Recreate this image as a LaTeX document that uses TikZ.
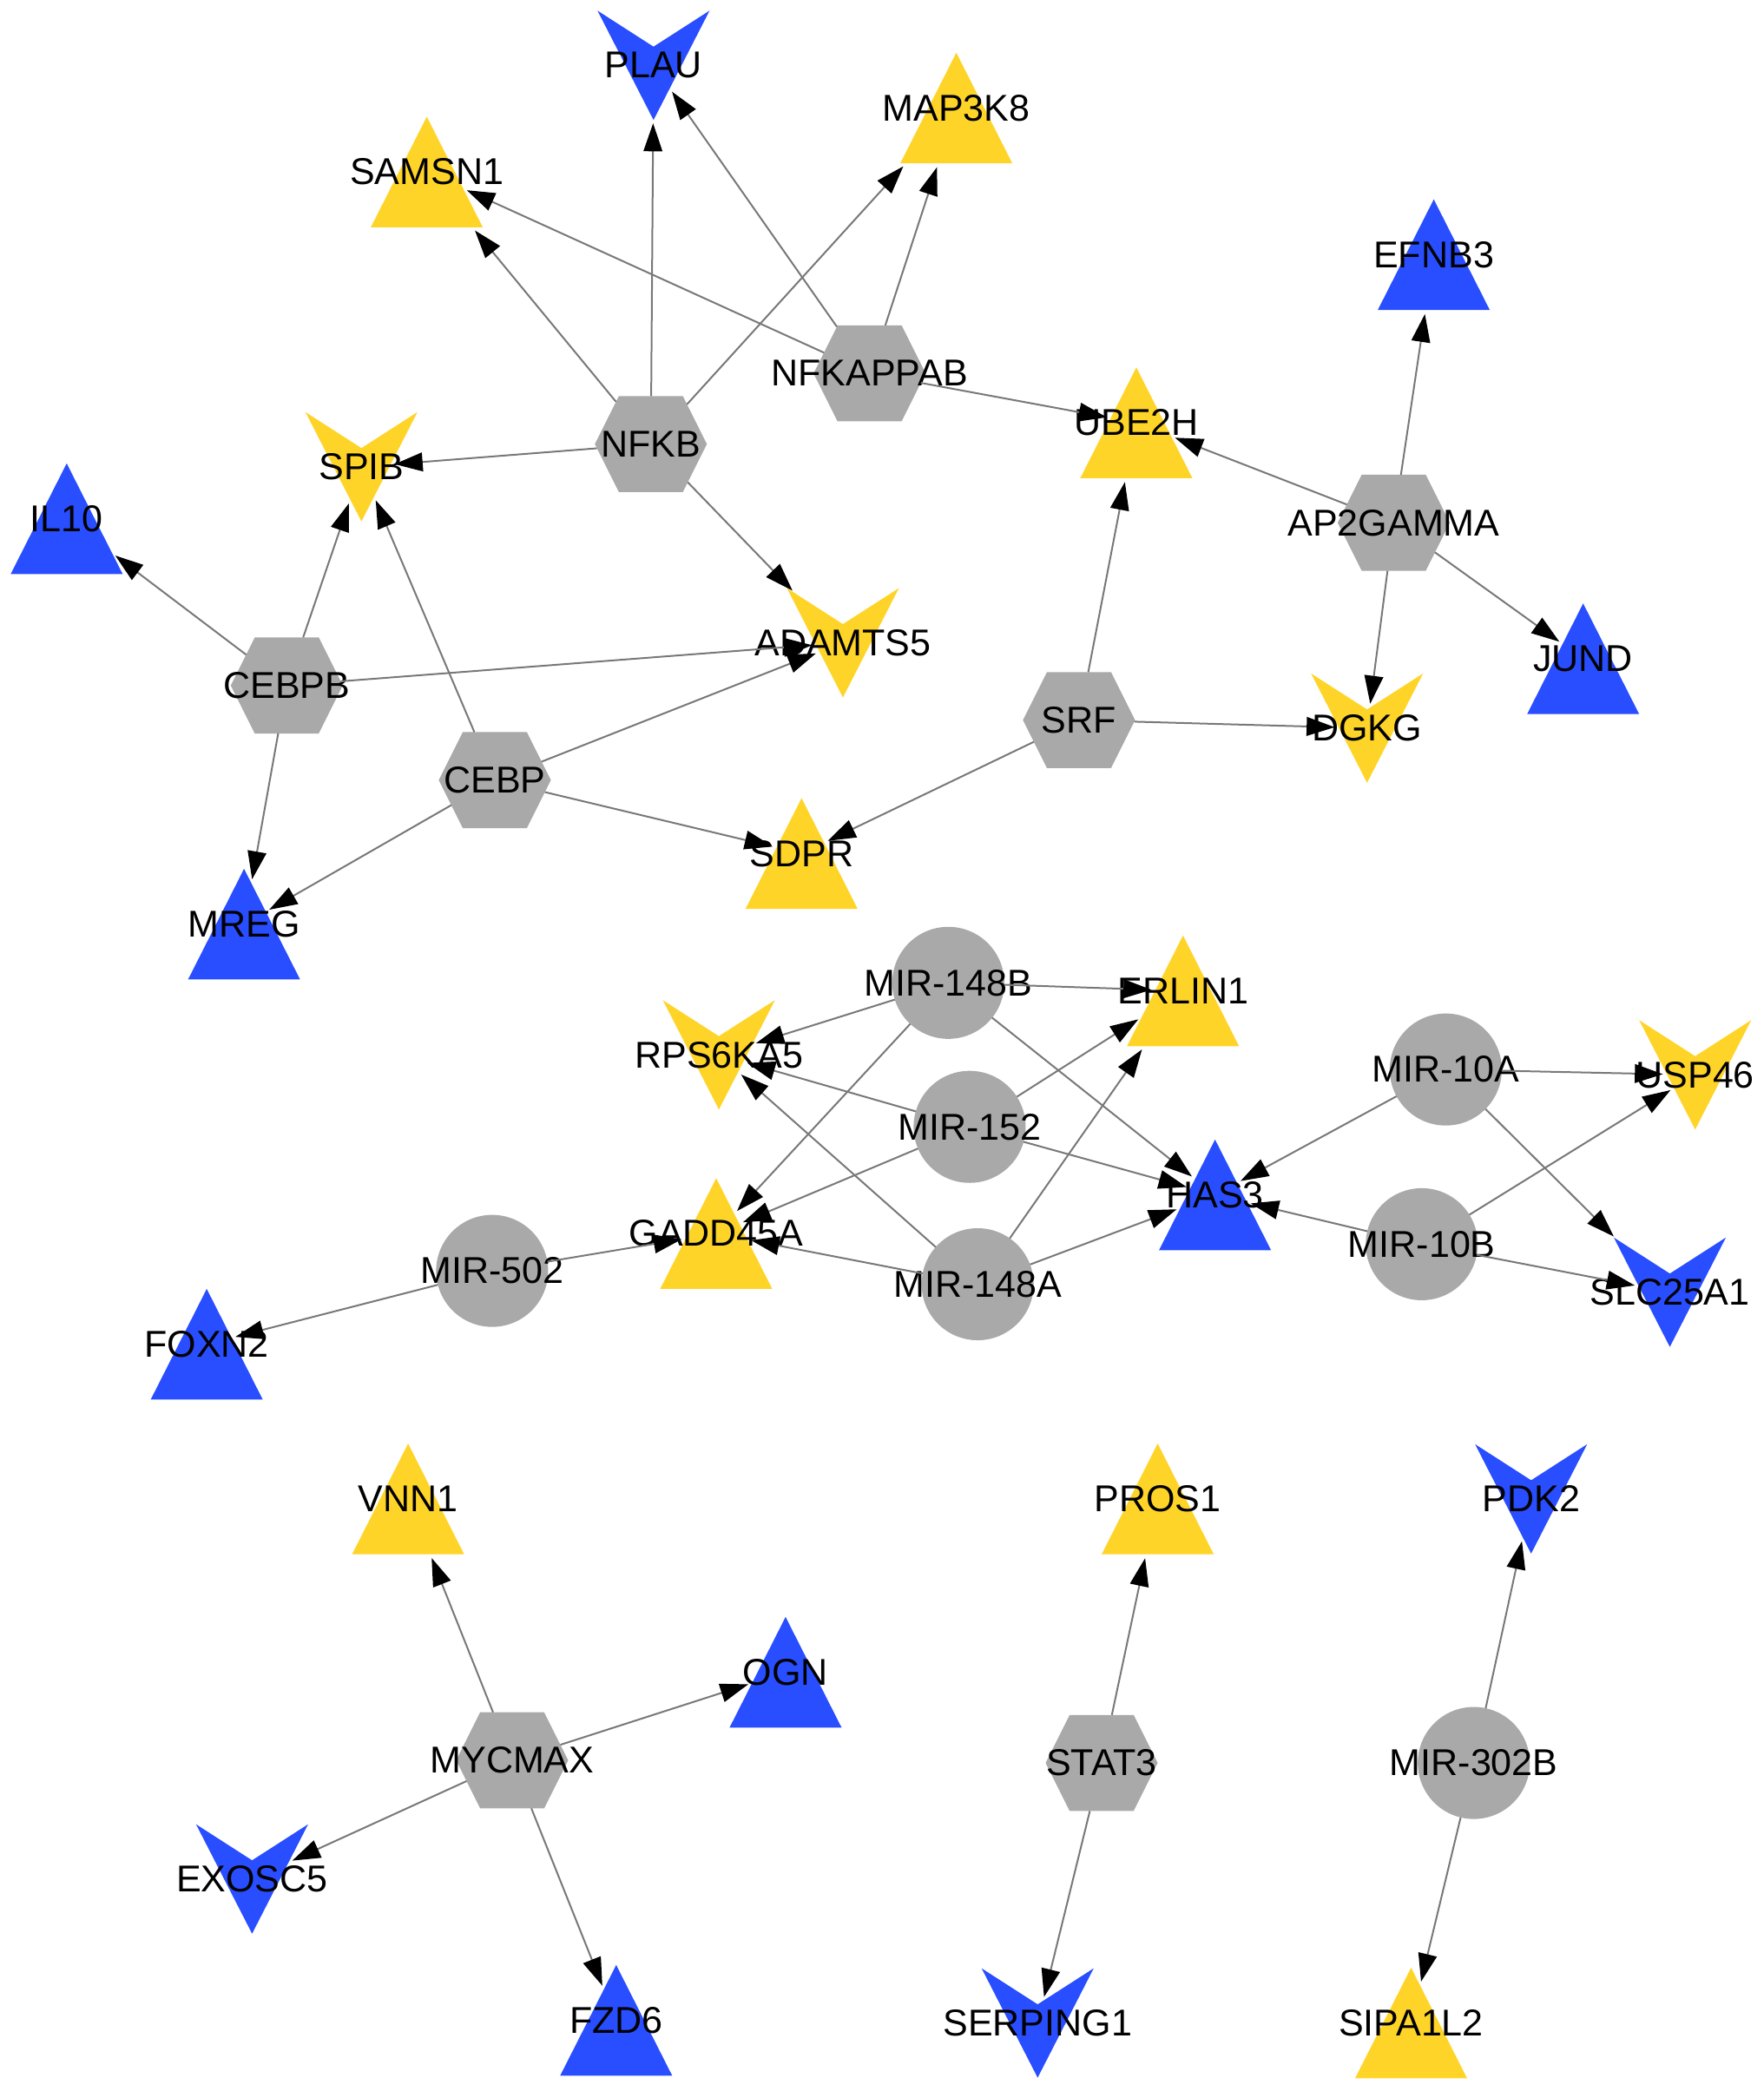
\documentclass[tikz,border=0pt]{standalone}
\usepackage{fontspec}
\setmainfont{Liberation Sans}
\usetikzlibrary{arrows.meta,intersections}
\pgfdeclarelayer{bg}
\pgfsetlayers{bg,main}
\definecolor{ny}{RGB}{255,212,40}
\definecolor{nb}{RGB}{40,78,255}
\definecolor{ng}{RGB}{169,169,169}
\definecolor{eg}{RGB}{120,120,120}
\tikzset{
  lbl/.style={inner sep=0pt, font=\fontsize{28}{30}\selectfont, text=black},
  conn/.style={draw=eg, line width=1.3pt, shorten >=3pt, -{Triangle[length=21pt,width=14pt,color=black]}},
}
\newcommand{\TriN}[5]{%
  \begin{pgfonlayer}{bg}
  \fill[#4, shift={(#2,#3)}, name path global=B#1] (-42,41.5) -- (0,-41.5) -- (42,41.5) -- cycle;
  \end{pgfonlayer}
  \node[lbl] (#1) at (#2,#3) {#5};}
\newcommand{\VeeN}[5]{%
  \begin{pgfonlayer}{bg}
  \fill[#4, shift={(#2,#3)}, name path global=B#1] (-42,-41) -- (0,-14) -- (42,-41) -- (0,41) -- cycle;
  \end{pgfonlayer}
  \node[lbl] (#1) at (#2,#3) {#5};}
\newcommand{\HexN}[4]{%
  \begin{pgfonlayer}{bg}
  \fill[ng, shift={(#2,#3)}, name path global=B#1] (-42,0) -- (-24,-36) -- (24,-36) -- (42,0) -- (24,36) -- (-24,36) -- cycle;
  \end{pgfonlayer}
  \node[lbl] (#1) at (#2,#3) {#4};}
\newcommand{\CircN}[4]{%
  \begin{pgfonlayer}{bg}
  \fill[ng, name path global=B#1] (#2,#3) circle[radius=42pt];
  \end{pgfonlayer}
  \node[lbl] (#1) at (#2,#3) {#4};}
\newcommand{\Edge}[2]{%
  \path[name path global=LN] (#1.center) -- (#2.center);
  \path[name intersections={of=LN and B#1, by=S}];
  \path[name intersections={of=LN and B#2, by=T}];
  \draw[conn] (S) -- (T);}
\begin{document}
\begin{tikzpicture}[x=1pt,y=-1pt]
\begin{pgfonlayer}{bg}
\fill[white] (0,0) rectangle (1322.6,1568);
\end{pgfonlayer}
\useasboundingbox (0,0) rectangle (1322.6,1568);
% nodes
\VeeN{PLAU}{490}{49}{nb}{PLAU}
\TriN{MAP3K8}{717}{81}{ny}{MAP3K8}
\TriN{SAMSN1}{320}{129}{ny}{SAMSN1}
\TriN{EFNB3}{1075}{191}{nb}{EFNB3}
\HexN{NFKAPPAB}{652}{280}{NFKAPPAB}
\HexN{NFKB}{488}{333}{NFKB}
\TriN{UBE2H}{852}{317}{ny}{UBE2H}
\VeeN{SPIB}{271}{350}{ny}{SPIB}
\TriN{IL10}{50}{389}{nb}{IL10}
\HexN{AP2GAMMA}{1045}{392}{AP2GAMMA}
\VeeN{ADAMTS5}{632}{482}{ny}{ADAMTS5}
\TriN{JUND}{1187}{494}{nb}{JUND}
\HexN{CEBPB}{215}{514}{CEBPB}
\HexN{SRF}{809}{540}{SRF}
\VeeN{DGKG}{1025}{546}{ny}{DGKG}
\HexN{CEBP}{371}{585}{CEBP}
\TriN{SDPR}{601}{640}{ny}{SDPR}
\TriN{MREG}{183}{693}{nb}{MREG}
\CircN{MIR148B}{711}{737}{MIR-148B}
\TriN{ERLIN1}{887}{743}{ny}{ERLIN1}
\VeeN{RPS6KA5}{539}{791}{ny}{RPS6KA5}
\CircN{MIR10A}{1084}{802}{MIR-10A}
\VeeN{USP46}{1271}{806}{ny}{USP46}
\CircN{MIR152}{727}{845}{MIR-152}
\TriN{HAS3}{911}{896}{nb}{HAS3}
\CircN{MIR10B}{1066}{933}{MIR-10B}
\TriN{GADD45A}{537}{925}{ny}{GADD45A}
\CircN{MIR502}{369}{953}{MIR-502}
\CircN{MIR148A}{733}{963}{MIR-148A}
\VeeN{SLC25A1}{1252}{969}{nb}{SLC25A1}
\TriN{FOXN2}{155}{1008}{nb}{FOXN2}
\TriN{VNN1}{306}{1124}{ny}{VNN1}
\TriN{PROS1}{868}{1124}{ny}{PROS1}
\VeeN{PDK2}{1148}{1124}{nb}{PDK2}
\TriN{OGN}{589}{1254}{nb}{OGN}
\HexN{MYCMAX}{384}{1320}{MYCMAX}
\HexN{STAT3}{826}{1322}{STAT3}
\CircN{MIR302B}{1105}{1322}{MIR-302B}
\VeeN{EXOSC5}{189}{1409}{nb}{EXOSC5}
\TriN{FZD6}{462}{1515}{nb}{FZD6}
\VeeN{SERPING1}{778}{1517}{nb}{SERPING1}
\TriN{SIPA1L2}{1058}{1517}{ny}{SIPA1L2}
% edges
\Edge{NFKB}{SAMSN1}
\Edge{NFKB}{PLAU}
\Edge{NFKB}{MAP3K8}
\Edge{NFKB}{SPIB}
\Edge{NFKB}{ADAMTS5}
\Edge{NFKAPPAB}{SAMSN1}
\Edge{NFKAPPAB}{PLAU}
\Edge{NFKAPPAB}{MAP3K8}
\Edge{NFKAPPAB}{UBE2H}
\Edge{AP2GAMMA}{UBE2H}
\Edge{AP2GAMMA}{EFNB3}
\Edge{AP2GAMMA}{JUND}
\Edge{AP2GAMMA}{DGKG}
\Edge{CEBPB}{IL10}
\Edge{CEBPB}{SPIB}
\Edge{CEBPB}{ADAMTS5}
\Edge{CEBPB}{MREG}
\Edge{CEBP}{SPIB}
\Edge{CEBP}{ADAMTS5}
\Edge{CEBP}{SDPR}
\Edge{CEBP}{MREG}
\Edge{SRF}{UBE2H}
\Edge{SRF}{DGKG}
\Edge{SRF}{SDPR}
\Edge{MIR148B}{RPS6KA5}
\Edge{MIR148B}{ERLIN1}
\Edge{MIR148B}{HAS3}
\Edge{MIR148B}{GADD45A}
\Edge{MIR152}{RPS6KA5}
\Edge{MIR152}{ERLIN1}
\Edge{MIR152}{HAS3}
\Edge{MIR152}{GADD45A}
\Edge{MIR148A}{RPS6KA5}
\Edge{MIR148A}{ERLIN1}
\Edge{MIR148A}{HAS3}
\Edge{MIR148A}{GADD45A}
\Edge{MIR502}{GADD45A}
\Edge{MIR502}{FOXN2}
\Edge{MIR10A}{USP46}
\Edge{MIR10A}{HAS3}
\Edge{MIR10A}{SLC25A1}
\Edge{MIR10B}{HAS3}
\Edge{MIR10B}{USP46}
\Edge{MIR10B}{SLC25A1}
\Edge{MYCMAX}{VNN1}
\Edge{MYCMAX}{OGN}
\Edge{MYCMAX}{EXOSC5}
\Edge{MYCMAX}{FZD6}
\Edge{STAT3}{PROS1}
\Edge{STAT3}{SERPING1}
\Edge{MIR302B}{PDK2}
\Edge{MIR302B}{SIPA1L2}
\end{tikzpicture}
\end{document}
